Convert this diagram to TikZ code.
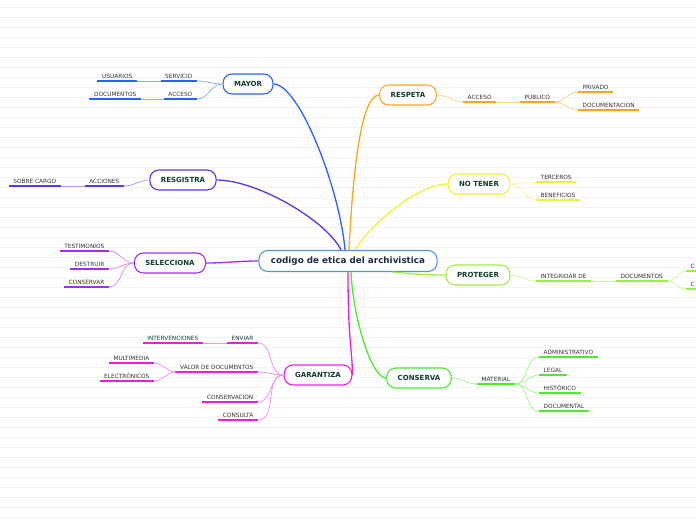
\documentclass[tikz,border=0pt]{standalone}
\usepackage{fontspec}
\setmainfont{DejaVu Sans}
\definecolor{MMRule}{HTML}{F4F4F4}
\definecolor{MMHub}{HTML}{4A96DC}
\definecolor{MMHubInk}{HTML}{1C2B4D}
\definecolor{MMTopicInk}{HTML}{0F3D33}
\definecolor{MMLeafInk}{HTML}{333333}
\definecolor{MMBlue}{HTML}{2962FF}
\definecolor{MMIndigo}{HTML}{5A33F5}
\definecolor{MMPurple}{HTML}{A82BEA}
\definecolor{MMMagenta}{HTML}{EC1EDE}
\definecolor{MMOrange}{HTML}{FFA41B}
\definecolor{MMYellow}{HTML}{F0F03A}
\definecolor{MMLime}{HTML}{9EEE44}
\definecolor{MMGreen}{HTML}{4CEB2E}
\tikzset{
  ruling/.style={MMRule,line width=.5pt},
  hub/.style={draw=MMHub,line width=1.1pt,fill=white,rounded corners=9pt,text=MMHubInk,
              font=\fontsize{8.8}{10}\selectfont\bfseries,inner xsep=12pt,minimum height=21pt},
  topic/.style={draw=#1,line width=1.1pt,fill=white,rounded corners=9pt,text=MMTopicInk,
                font=\fontsize{7}{8}\selectfont\bfseries,inner xsep=11pt,minimum height=20pt},
  branch/.style={#1,line width=1.3pt},
  twig/.style={#1!50,line width=.8pt},
  leaf/.style={text=MMLeafInk,font=\fontsize{5.8}{7}\selectfont,inner xsep=4.5pt,inner ysep=2.6pt,
               text height=4.4pt,text depth=0pt,
               append after command={(\tikzlastnode.south west) edge[#1,line width=1.7pt] (\tikzlastnode.south east)}},
}

\begin{document}
\begin{tikzpicture}[x=1pt,y=-1pt]
  \useasboundingbox (0,0) rectangle (696,520);
  \clip (0,0) rectangle (696,520);
  \foreach \y in {7,17,...,517}{
    \draw[ruling] (0,\y)--(696,\y);
  }

  \node[hub] (main) at (348,261) {codigo de etica del archivistica};

  \node[topic=MMBlue] (mayor) at (248,84) {MAYOR};
  \node[topic=MMIndigo] (resgistra) at (183,180) {RESGISTRA};
  \node[topic=MMPurple] (selecciona) at (170,263) {SELECCIONA};
  \node[topic=MMMagenta] (garantiza) at (318,375) {GARANTIZA};
  \node[topic=MMOrange] (respeta) at (408,95) {RESPETA};
  \node[topic=MMYellow] (notener) at (479,184) {NO TENER};
  \node[topic=MMLime] (proteger) at (478,275) {PROTEGER};
  \node[topic=MMGreen] (conserva) at (419,378) {CONSERVA};

  % main branches
  \draw[branch=MMBlue] ([xshift=-3pt]main.north) .. controls +(-5,-60) and +(26,0) .. (mayor.east);
  \draw[branch=MMIndigo] ([xshift=-7pt]main.north) .. controls +(-15,-30) and +(40,0) .. (resgistra.east);
  \draw[branch=MMPurple] (main.west) to[out=180,in=0] (selecciona.east);
  \draw[branch=MMMagenta] (main.south) .. controls +(0,70) and +(0,-25) .. (garantiza.east);
  \draw[branch=MMOrange] ([xshift=1pt]main.north) .. controls +(3,-60) and +(-20,0) .. (respeta.west);
  \draw[branch=MMYellow] ([xshift=7pt]main.north) .. controls +(15,-25) and +(-30,0) .. (notener.west);
  \draw[branch=MMLime] ([xshift=45pt]main.south) .. controls +(20,2) and +(-20,0) .. (proteger.west);
  \draw[branch=MMGreen] ([xshift=3pt]main.south) .. controls +(2,45) and +(-15,0) .. (conserva.west);

  % mayor
  \node[leaf=MMBlue,anchor=south east] (servicio) at (197,81) {SERVICIO};
  \node[leaf=MMBlue,anchor=south east] (accesoA) at (197,99) {ACCESO};
  \node[leaf=MMBlue,anchor=south east] (usuarios) at (137,81) {USUARIOS};
  \node[leaf=MMBlue,anchor=south east] (documentosA) at (141,99) {DOCUMENTOS};
  \draw[twig=MMBlue] (mayor.west) to[out=180,in=0] (servicio.south east);
  \draw[twig=MMBlue] (mayor.west) to[out=180,in=0] (accesoA.south east);
  \draw[twig=MMBlue] (servicio.south west)--(usuarios.south east);
  \draw[twig=MMBlue] (accesoA.south west)--(documentosA.south east);

  % resgistra
  \node[leaf=MMIndigo,anchor=south east] (acciones) at (124,186) {ACCIONES};
  \node[leaf=MMIndigo,anchor=south east] (sobrecargo) at (61,186) {SOBRE CARGO};
  \draw[twig=MMIndigo] (resgistra.west) to[out=180,in=0] (acciones.south east);
  \draw[twig=MMIndigo] (acciones.south west)--(sobrecargo.south east);

  % selecciona
  \node[leaf=MMPurple,anchor=south east] (testimonios) at (109,251) {TESTIMONIOS};
  \node[leaf=MMPurple,anchor=south east] (destruir) at (109,269) {DESTRUIR};
  \node[leaf=MMPurple,anchor=south east] (conservar) at (109,287) {CONSERVAR};
  \foreach \n in {testimonios,destruir,conservar}{
    \draw[twig=MMPurple] (selecciona.west) to[out=180,in=0] (\n.south east);
  }

  % garantiza
  \node[leaf=MMMagenta,anchor=south east] (enviar) at (258,343) {ENVIAR};
  \node[leaf=MMMagenta,anchor=south east] (intervenciones) at (203,343) {INTERVENCIONES};
  \node[leaf=MMMagenta,anchor=south east] (valor) at (258,372) {VALOR DE DOCUMENTOS};
  \node[leaf=MMMagenta,anchor=south east] (multimedia) at (154,363) {MULTIMEDIA};
  \node[leaf=MMMagenta,anchor=south east] (electronicos) at (154,381) {ELECTRÓNICOS};
  \node[leaf=MMMagenta,anchor=south east] (conservacion) at (258,402) {CONSERVACIÓN};
  \node[leaf=MMMagenta,anchor=south east] (consulta) at (258,420) {CONSULTA};
  \foreach \n in {enviar,valor,conservacion,consulta}{
    \draw[twig=MMMagenta] (garantiza.west) to[out=180,in=0] (\n.south east);
  }
  \draw[twig=MMMagenta] (enviar.south west)--(intervenciones.south east);
  \draw[twig=MMMagenta] (valor.south west) to[out=180,in=0] (multimedia.south east);
  \draw[twig=MMMagenta] (valor.south west) to[out=180,in=0] (electronicos.south east);

  % respeta
  \node[leaf=MMOrange,anchor=south west] (accesoB) at (463,102) {ACCESO};
  \node[leaf=MMOrange,anchor=south west] (publico) at (520,102) {PUBLICO};
  \node[leaf=MMOrange,anchor=south west] (privado) at (578,92) {PRIVADO};
  \node[leaf=MMOrange,anchor=south west] (documentacion) at (578,110) {DOCUMENTACION};
  \draw[twig=MMOrange] (respeta.east) to[out=0,in=180] (accesoB.south west);
  \draw[twig=MMOrange] (accesoB.south east)--(publico.south west);
  \draw[twig=MMOrange] (publico.south east) to[out=0,in=180] (privado.south west);
  \draw[twig=MMOrange] (publico.south east) to[out=0,in=180] (documentacion.south west);

  % no tener
  \node[leaf=MMYellow,anchor=south west] (terceros) at (536,182) {TERCEROS};
  \node[leaf=MMYellow,anchor=south west] (beneficios) at (536,200) {BENEFICIOS};
  \draw[twig=MMYellow] (notener.east) to[out=0,in=180] (terceros.south west);
  \draw[twig=MMYellow] (notener.east) to[out=0,in=180] (beneficios.south west);

  % proteger
  \node[leaf=MMLime,anchor=south west] (integridad) at (536,281) {INTEGRIDAR DE};
  \node[leaf=MMLime,anchor=south west] (documentosB) at (616,281) {DOCUMENTOS};
  \node[leaf=MMLime,anchor=south west] (cutA) at (686,271) {C};
  \node[leaf=MMLime,anchor=south west] (cutB) at (686,289) {C};
  \draw[twig=MMLime] (proteger.east) to[out=0,in=180] (integridad.south west);
  \draw[twig=MMLime] (integridad.south east)--(documentosB.south west);
  \draw[twig=MMLime] (documentosB.south east) to[out=0,in=180] (cutA.south west);
  \draw[twig=MMLime] (documentosB.south east) to[out=0,in=180] (cutB.south west);

  % conserva
  \node[leaf=MMGreen,anchor=south west] (material) at (477,384) {MATERIAL};
  \node[leaf=MMGreen,anchor=south west] (administrativo) at (539,357) {ADMINISTRATIVO};
  \node[leaf=MMGreen,anchor=south west] (legal) at (539,375) {LEGAL};
  \node[leaf=MMGreen,anchor=south west] (historico) at (539,393) {HISTÓRICO};
  \node[leaf=MMGreen,anchor=south west] (documental) at (539,411) {DOCUMENTAL};
  \draw[twig=MMGreen] (conserva.east) to[out=0,in=180] (material.south west);
  \foreach \n in {administrativo,legal,historico,documental}{
    \draw[twig=MMGreen] (material.south east) to[out=0,in=180] (\n.south west);
  }
\end{tikzpicture}
\end{document}
